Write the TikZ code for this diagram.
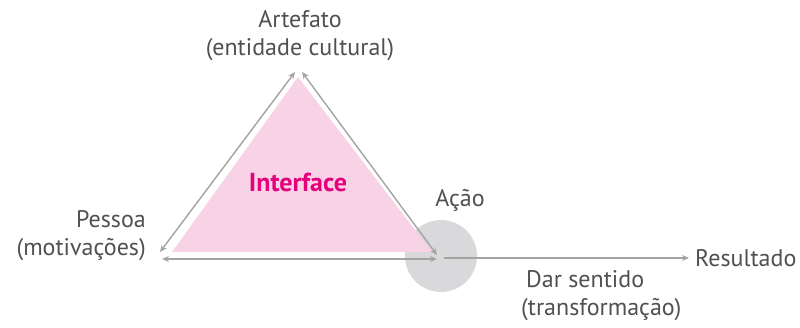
\documentclass[tikz,border=0pt]{standalone}
\usepackage{fontspec}
\setmainfont{PT Sans}
\usetikzlibrary{arrows.meta}
\definecolor{txt}{HTML}{505050}
\definecolor{arr}{HTML}{A3A3A3}
\definecolor{pinkf}{HTML}{F8D3E5}
\definecolor{mag}{HTML}{E5007D}
\definecolor{circ}{HTML}{D9D9DB}
\tikzset{
  lbl/.style={text=txt, font=\fontsize{24}{28}\selectfont, align=center, inner sep=0pt},
  conn/.style={draw=arr, line width=1.4pt, {Stealth[length=7pt,width=6pt]}-{Stealth[length=7pt,width=6pt]}},
  conn1/.style={draw=arr, line width=1.4pt, -{Stealth[length=7pt,width=6pt]}}
}
\begin{document}
\begin{tikzpicture}[x=1pt,y=-1pt]
\useasboundingbox (0,0) rectangle (800,327);
% circle
\node[circle, fill=circ, minimum size=72pt, inner sep=0pt] (act) at (441,256) {};
% triangle
\coordinate (pa) at (298,77);
\coordinate (pl) at (172,252);
\coordinate (pr) at (432,252);
\fill[pinkf] (pa) -- (pl) -- (pr) -- cycle;
\node[text=mag, font=\fontsize{26}{30}\selectfont\bfseries, inner sep=0pt] (int) at (298,182) {Interface};
% arrow endpoints
\coordinate (la) at (160,252);
\coordinate (lt) at (295,72);
\coordinate (rt) at (302,72);
\coordinate (rb) at (437,255);
\coordinate (bl) at (162,259);
\coordinate (br) at (437,259);
\coordinate (hs) at (444,258);
\coordinate (he) at (689,258);
\draw[conn] (la) -- (lt);
\draw[conn] (rt) -- (rb);
\draw[conn] (bl) -- (br);
\draw[conn1] (hs) -- (he);
% labels
\node[lbl] (art) at (300,36) {Artefato\\(entidade cultural)};
\node[lbl, align=right, anchor=east] (pes) at (146,236) {Pessoa\\(motivações)};
\node[lbl] (acao) at (460,200) {Ação};
\node[lbl, anchor=west] (res) at (695,258) {Resultado};
\node[lbl, align=left, anchor=west] (dar) at (521,296) {\hspace{5pt}Dar sentido\\(transformação)};
\end{tikzpicture}
\end{document}
